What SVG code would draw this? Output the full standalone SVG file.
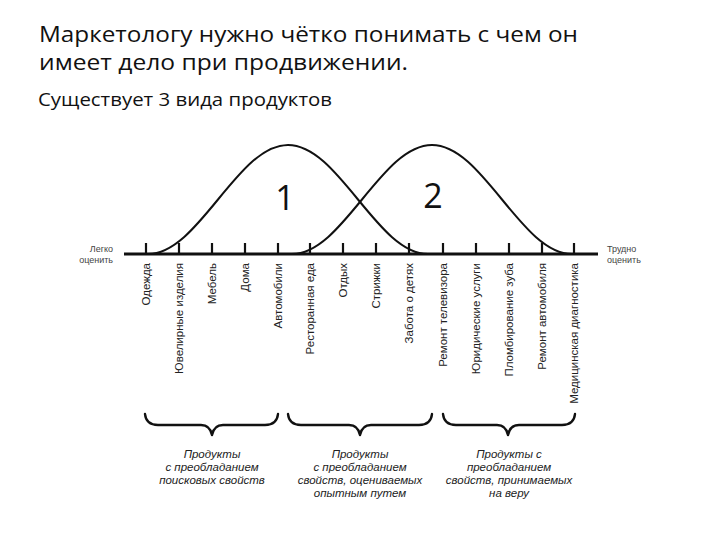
<svg xmlns="http://www.w3.org/2000/svg" width="720" height="540" viewBox="0 0 720 540">
<style>
.title{font-family:"Open Sans","Noto Sans",sans-serif;fill:#111;}
.curve{fill:none;stroke:#111;stroke-width:2;}
.tick{stroke:#111;stroke-width:2.2;}
.lbl{font-family:"Liberation Sans",Arial,sans-serif;font-size:11.5px;fill:#222;text-anchor:end;}
.side{font-family:"Liberation Sans",Arial,sans-serif;font-size:9px;fill:#444;}
.brace{fill:none;stroke:#111;stroke-width:2.4;stroke-linejoin:round;stroke-linecap:round;}
.cap{font-family:"Liberation Sans",Arial,sans-serif;font-size:11.5px;font-style:italic;fill:#222;text-anchor:middle;}
.num{font-family:"Open Sans","Noto Sans",sans-serif;font-size:34px;fill:#111;text-anchor:middle;}
</style>
<rect width="720" height="540" fill="#fff"/>
<g id="title">
<text class="title" x="39" y="42" font-size="21" textLength="539" lengthAdjust="spacingAndGlyphs">Маркетологу нужно чётко понимать с чем он</text>
<text class="title" x="39" y="70" font-size="21" textLength="369" lengthAdjust="spacingAndGlyphs">имеет дело при продвижении.</text>
<text class="title" x="38" y="106" font-size="18.5" textLength="294" lengthAdjust="spacingAndGlyphs">Существует 3 вида продуктов</text>
</g>
<g id="axis">
<line x1="124" y1="254" x2="598" y2="254" stroke="#111" stroke-width="3"/>
<g class="tick">
<line x1="146" y1="243" x2="146" y2="254"/>
<line x1="179" y1="243" x2="179" y2="254"/>
<line x1="212" y1="243" x2="212" y2="254"/>
<line x1="245" y1="243" x2="245" y2="254"/>
<line x1="278" y1="243" x2="278" y2="254"/>
<line x1="310" y1="243" x2="310" y2="254"/>
<line x1="343" y1="243" x2="343" y2="254"/>
<line x1="376" y1="243" x2="376" y2="254"/>
<line x1="409" y1="243" x2="409" y2="254"/>
<line x1="443" y1="243" x2="443" y2="254"/>
<line x1="476" y1="243" x2="476" y2="254"/>
<line x1="509" y1="243" x2="509" y2="254"/>
<line x1="542" y1="243" x2="542" y2="254"/>
<line x1="574" y1="243" x2="574" y2="254"/>
</g>
<text class="side" x="113" y="252" text-anchor="end">Легко</text>
<text class="side" x="113" y="263" text-anchor="end">оценить</text>
<text class="side" x="607" y="252">Трудно</text>
<text class="side" x="607" y="263">оценить</text>
</g>
<g id="curves">
<path id="curve1" class="curve" d="M148,254 C173.33,254 195.17,227.42 218,199.5 C240.83,171.58 262.67,145 288,145 C313.33,145 335.17,171.58 358,199.5 C380.83,227.42 402.67,254 428,254"/>
<path id="curve2" class="curve" d="M292,254 C317.33,254 339.17,227.42 362,199.5 C384.83,171.58 406.67,145 432,145 C457.33,145 479.17,171.58 502,199.5 C524.83,227.42 546.67,254 572,254"/>
<text class="num" x="285" y="210">1</text>
<text class="num" x="433" y="208">2</text>
</g>
<g id="labels">
<text class="lbl" transform="translate(150,263) rotate(-90)">Одежда</text>
<text class="lbl" transform="translate(183,263) rotate(-90)">Ювелирные изделия</text>
<text class="lbl" transform="translate(216,263) rotate(-90)">Мебель</text>
<text class="lbl" transform="translate(249,263) rotate(-90)">Дома</text>
<text class="lbl" transform="translate(282,263) rotate(-90)">Автомобили</text>
<text class="lbl" transform="translate(314,263) rotate(-90)">Ресторанная еда</text>
<text class="lbl" transform="translate(347,263) rotate(-90)">Отдых</text>
<text class="lbl" transform="translate(380,263) rotate(-90)">Стрижки</text>
<text class="lbl" transform="translate(413,263) rotate(-90)">Забота о детях</text>
<text class="lbl" transform="translate(447,263) rotate(-90)">Ремонт телевизора</text>
<text class="lbl" transform="translate(480,263) rotate(-90)">Юридические услуги</text>
<text class="lbl" transform="translate(513,263) rotate(-90)">Пломбирование зуба</text>
<text class="lbl" transform="translate(546,263) rotate(-90)">Ремонт автомобиля</text>
<text class="lbl" transform="translate(578,263) rotate(-90)">Медицинская диагностика</text>
</g>
<g id="group1">
<path class="brace" d="M145,414 Q146,425 158,425 H201 Q210,425 212,435 Q214,425 223,425 H265 Q277,425 278,414"/>
<text class="cap" x="212" y="458">Продукты</text>
<text class="cap" x="212" y="471">с преобладанием</text>
<text class="cap" x="212" y="484">поисковых свойств</text>
</g>
<g id="group2">
<path class="brace" d="M288,414 Q289,425 301,425 H349 Q358,425 360,435 Q362,425 371,425 H419 Q431,425 432,414"/>
<text class="cap" x="360" y="458">Продукты</text>
<text class="cap" x="360" y="471">с преобладанием</text>
<text class="cap" x="360" y="484">свойств, оцениваемых</text>
<text class="cap" x="360" y="497">опытным путем</text>
</g>
<g id="group3">
<path class="brace" d="M443,414 Q444,425 456,425 H497 Q506,425 508,435 Q510,425 519,425 H562 Q574,425 575,414"/>
<text class="cap" x="509" y="458">Продукты с</text>
<text class="cap" x="509" y="471">преобладанием</text>
<text class="cap" x="509" y="484">свойств, принимаемых</text>
<text class="cap" x="509" y="497">на веру</text>
</g>
</svg>
